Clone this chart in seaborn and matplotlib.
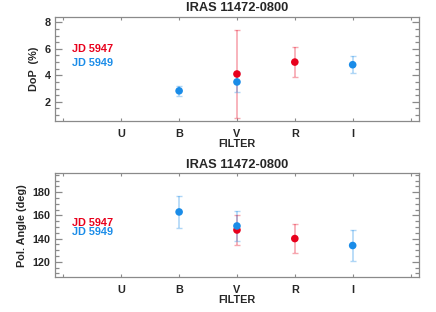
import numpy as np
import pandas as pd
import seaborn as sns
import matplotlib.pyplot as plt
from matplotlib.ticker import MultipleLocator, FixedLocator


filters = ['', 'U', 'B', 'V', 'R', 'I', '']

# degree of polarisation (%)
dop_jd5947_filter = ['V', 'R']
dop_jd5947 = [4.1, 5.0]
dop_jd5947_err = [3.35, 1.15]
dop_jd5949_filter = ['B', 'V', 'I']
dop_jd5949 = [2.83, 3.5, 4.8]
dop_jd5949_err = [0.4, 0.75, 0.65]

# polarisation angle (deg)
pa_jd5947_filter = ['V', 'R']
pa_jd5947 = [147.4, 140.0]
pa_jd5947_err = [13.0, 12.8]
pa_jd5949_filter = ['B', 'V', 'I']
pa_jd5949 = [163.0, 150.9, 134.0]
pa_jd5949_err = [13.5, 13.0, 13.0]

RED = '#e8001c'
BLUE = '#1a8ce8'
GREY = '#8a8a8a'
FONT = ['Liberation Sans', 'DejaVu Sans']


def build_df(f1, v1, e1, f2, v2, e2):
  df = pd.DataFrame({
    'filter': list(f1) + list(f2),
    'value': list(v1) + list(v2),
    'err': list(e1) + list(e2),
    'night': ['JD 5947'] * len(f1) + ['JD 5949'] * len(f2),
  })
  df['x'] = df['filter'].map({f: i for i, f in enumerate(filters) if f})
  return df


def draw_panel(ax, df, ylabel, ylim, major, minor, leg_y1, leg_y2):
  pal = {'JD 5947': RED, 'JD 5949': BLUE}
  for night, sub in df.groupby('night'):
    ax.errorbar(sub['x'], sub['value'], yerr=sub['err'], fmt='none',
                ecolor=pal[night], alpha=0.35, elinewidth=1.2, capsize=2.5,
                capthick=1.0, zorder=2)
  sns.scatterplot(data=df, x='x', y='value', hue='night', palette=pal,
                  s=30, edgecolor='none', legend=False, ax=ax, zorder=3)

  ax.set_xlim(-0.15, 6.15)
  ax.set_ylim(*ylim)
  ax.xaxis.set_major_locator(FixedLocator(range(len(filters))))
  ax.set_xticklabels(filters)
  ax.yaxis.set_major_locator(MultipleLocator(major))
  ax.yaxis.set_minor_locator(MultipleLocator(minor))

  ax.tick_params(axis='y', which='major', direction='in', left=True,
                 right=True, length=5, width=0.9, color=GREY,
                 labelsize=7.8, pad=3)
  ax.tick_params(axis='y', which='minor', direction='in', left=True,
                 right=True, length=3, width=0.9, color=GREY)
  ax.tick_params(axis='x', which='major', direction='in', bottom=True,
                 top=True, length=2, width=0.8, color=GREY,
                 labelsize=7.8, pad=5.5)
  for lab in ax.get_xticklabels() + ax.get_yticklabels():
    lab.set_fontweight('bold')
    lab.set_family(FONT)
  for sp in ax.spines.values():
    sp.set_color(GREY)
    sp.set_linewidth(0.9)

  ax.set_title('IRAS 11472-0800', fontsize=9.3, fontweight='bold',
               family=FONT, pad=4)
  ax.set_xlabel('FILTER', fontsize=7.8, fontweight='bold', family=FONT,
                labelpad=0)
  ax.set_ylabel(ylabel, fontsize=7.8, fontweight='bold', family=FONT,
                labelpad=4)
  ax.text(0.0475, leg_y1, 'JD 5947', color=RED, transform=ax.transAxes,
          fontsize=7.8, fontweight='bold', family=FONT, va='center')
  ax.text(0.0475, leg_y2, 'JD 5949', color=BLUE,
          transform=ax.transAxes, fontsize=7.8, fontweight='bold',
          family=FONT, va='center')


def main():
  sns.set_theme(style='ticks')
  plt.rcParams['font.family'] = FONT

  fig = plt.figure(figsize=(4.36, 3.12), dpi=100)
  ax1 = fig.add_axes([0.1255, 0.612, 0.836, 0.3335])
  ax2 = fig.add_axes([0.1255, 0.1122, 0.836, 0.3324])

  dop = build_df(dop_jd5947_filter, dop_jd5947, dop_jd5947_err,
                 dop_jd5949_filter, dop_jd5949, dop_jd5949_err)
  pa = build_df(pa_jd5947_filter, pa_jd5947, pa_jd5947_err,
                pa_jd5949_filter, pa_jd5949, pa_jd5949_err)

  draw_panel(ax1, dop, 'DoP  (%)', (0.55, 8.4), 2, 0.5, 0.692, 0.558)
  draw_panel(ax2, pa, 'Pol. Angle (deg)', (106.8, 196.4), 20, 5, 0.524, 0.431)

  fig.savefig('out.png', dpi=100)


if __name__ == "__main__":
  main()
